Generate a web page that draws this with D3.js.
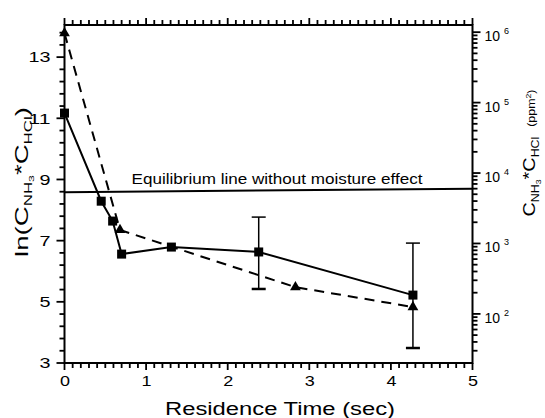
<!DOCTYPE html>
<html>
<head>
<meta charset="utf-8">
<script src="https://cdn.jsdelivr.net/npm/d3@7"></script>
<style>
  body { margin: 0; background: #fff; }
  text { font-family: "Liberation Sans", Arial, sans-serif; fill: #000; }
</style>
</head>
<body>
<script>
const width = 545
const height = 418

// series 1: squares, solid line
const sqTime = [0, 0.45, 0.59, 0.70, 1.31, 2.38, 4.27]
const sqLn = [11.17, 8.29, 7.64, 6.56, 6.79, 6.63, 5.22]
// error bars on the squares
const errTime = [2.38, 4.27]
const errHi = [7.77, 6.92]
const errLo = [5.42, 3.49]

// series 2: triangles, dashed line
const triTime = [0, 0.68, 2.83, 4.27]
const triLn = [13.78, 7.35, 5.48, 4.83]

// equilibrium line (ends)
const eqTime = [0, 5]
const eqLn = [8.58, 8.70]

// ticks
const xLabels = [0, 1, 2, 3, 4, 5]
const yLabels = [3, 5, 7, 9, 11, 13]
const decades = [2, 3, 4, 5, 6]

const x = d3.scaleLinear().domain([0, 5]).range([64.5, 472.5])
const y = d3.scaleLinear().domain([3, 14.05]).range([363, 25])
// right axis: same positions, value = exp(ln)
const yr = d3.scaleLog().domain([Math.exp(3), Math.exp(14.05)]).range([363, 25])

const svg = d3.select('body').append('svg').attr('width', width).attr('height', height)

const xTicks = d3.range(0, 51).map(i => i / 10)
const yTicks = d3.range(0, 28).map(i => +(3 + i * 0.4).toFixed(1)).filter(v => v <= 14.05)
const isXMajor = d => Math.abs(d - Math.round(d)) < 1e-6
const isYMajor = d => yLabels.includes(d)

const rTicks = []
decades.concat([1]).forEach(n => d3.range(1, 10).forEach(k => rTicks.push(k * Math.pow(10, n))))
const rVals = rTicks.filter(v => v >= yr.domain()[0] && v <= yr.domain()[1])
const isRMajor = d => decades.some(n => Math.abs(d - Math.pow(10, n)) < 1e-6)

/* ejes: lineas y etiquetas */
svg.append('g')
  .attr('transform', `translate(0,${y(3)})`)
  .call(d3.axisBottom(x).tickValues(xLabels).tickSize(0).tickSizeOuter(0).tickPadding(12).tickFormat(d3.format('d')))
  .call(g => g.select('.domain').remove())
  .call(g => g.selectAll('.tick line').remove())
  .call(g => g.selectAll('.tick text').attr('font-size', 15).attr('textLength', 10).attr('lengthAdjust', 'spacingAndGlyphs'))

svg.append('g')
  .attr('transform', `translate(${x(0)},0)`)
  .call(d3.axisLeft(y).tickValues(yLabels).tickSize(0).tickSizeOuter(0).tickPadding(14).tickFormat(d3.format('d')))
  .call(g => g.select('.domain').remove())
  .call(g => g.selectAll('.tick line').remove())
  .call(g => g.selectAll('.tick text').attr('font-size', 15)
    .attr('textLength', d => String(d).length * 11).attr('lengthAdjust', 'spacingAndGlyphs'))

/* marco y marcas de los ejes, dibujados al final */
const frame = svg.append('g')
frame.append('rect')
  .attr('x', x(0)).attr('y', y.range()[1])
  .attr('width', x(5) - x(0)).attr('height', y(3) - y.range()[1])
  .attr('fill', 'none').attr('stroke', '#000').attr('stroke-width', 2)

const marks = svg.append('g')
marks.selectAll('rect.b').data(xTicks).join('rect').attr('class', 'b')
  .attr('x', d => x(d) - 0.9).attr('width', 1.8)
  .attr('y', y(3)).attr('height', d => isXMajor(d) ? 7 : 5)
  .attr('fill', '#000')
marks.selectAll('rect.t').data(xTicks).join('rect').attr('class', 't')
  .attr('x', d => x(d) - 0.9).attr('width', 1.8)
  .attr('y', d => y.range()[1] - (isXMajor(d) ? 7 : 5)).attr('height', d => isXMajor(d) ? 7 : 5)
  .attr('fill', '#000')
marks.selectAll('rect.l').data(yTicks).join('rect').attr('class', 'l')
  .attr('x', d => x(0) - (isYMajor(d) ? 8 : 5)).attr('width', d => isYMajor(d) ? 8 : 5)
  .attr('y', d => y(d) - 0.9).attr('height', 1.8)
  .attr('fill', '#000')
marks.selectAll('rect.r').data(rVals).join('rect').attr('class', 'r')
  .attr('x', x(5)).attr('width', d => isRMajor(d) ? 8 : 5)
  .attr('y', d => yr(d) - 0.9).attr('height', 1.8)
  .attr('fill', '#000')

// etiquetas 10^n
const rLab = svg.append('g').selectAll('text')
  .data(decades)
  .join('text')
  .attr('x', x(5) + 12)
  .attr('y', d => yr(Math.pow(10, d)) + 9)
  .attr('font-size', 14)
rLab.append('tspan').text('10')
rLab.append('tspan').attr('font-size', 9).attr('dx', 4).attr('dy', -7).text(d => d)

/* linea de equilibrio */
const eqLine = d3.line().x((d, i) => x(eqTime[i])).y(d => y(d))
svg.append('path')
  .attr('d', eqLine(eqLn))
  .attr('fill', 'none').attr('stroke', '#000').attr('stroke-width', 2)
svg.append('text')
  .attr('x', 277).attr('y', 184)
  .attr('text-anchor', 'middle')
  .attr('font-size', 14)
  .attr('textLength', 291).attr('lengthAdjust', 'spacingAndGlyphs')
  .text('Equilibrium line without moisture effect')

/* series */
const triLine = d3.line().x((d, i) => x(triTime[i])).y(d => y(d))
svg.append('path')
  .attr('d', triLine(triLn))
  .attr('fill', 'none').attr('stroke', '#000').attr('stroke-width', 2)
  .attr('stroke-dasharray', '10,7')

const sqLine = d3.line().x((d, i) => x(sqTime[i])).y(d => y(d))
svg.append('path')
  .attr('d', sqLine(sqLn))
  .attr('fill', 'none').attr('stroke', '#000').attr('stroke-width', 2)

const err = svg.append('g').selectAll('g')
  .data(errTime)
  .join('g')
err.append('line')
  .attr('x1', d => x(d)).attr('x2', d => x(d))
  .attr('y1', (d, i) => y(errHi[i])).attr('y2', (d, i) => y(errLo[i]))
  .attr('stroke', '#000').attr('stroke-width', 1.5)
err.append('line')
  .attr('x1', d => x(d) - 7).attr('x2', d => x(d) + 7)
  .attr('y1', (d, i) => y(errHi[i])).attr('y2', (d, i) => y(errHi[i]))
  .attr('stroke', '#000').attr('stroke-width', 1.5)
err.append('line')
  .attr('x1', d => x(d) - 7).attr('x2', d => x(d) + 7)
  .attr('y1', (d, i) => y(errLo[i])).attr('y2', (d, i) => y(errLo[i]))
  .attr('stroke', '#000').attr('stroke-width', 2.5)

svg.append('g').selectAll('rect')
  .data(sqLn)
  .join('rect')
  .attr('x', (d, i) => x(sqTime[i]) - 4.5)
  .attr('y', d => y(d) - 4.5)
  .attr('width', 9).attr('height', 9)
  .attr('fill', '#000')

svg.append('g').selectAll('path')
  .data(triLn)
  .join('path')
  .attr('transform', (d, i) => `translate(${x(triTime[i])},${y(d)})`)
  .attr('d', d3.symbol(d3.symbolTriangle, 50))
  .attr('fill', '#000')

/* titulos */
const yTitle = svg.append('text')
  .attr('transform', 'translate(28,182) rotate(-90)')
  .attr('text-anchor', 'middle')
  .attr('font-size', 18)
  .attr('textLength', 150).attr('lengthAdjust', 'spacingAndGlyphs')
yTitle.append('tspan').text('ln(C')
yTitle.append('tspan').attr('font-size', 11).attr('dy', 4).text('NH')
yTitle.append('tspan').attr('font-size', 8).attr('dy', 2).text('3')
yTitle.append('tspan').attr('dy', -6).text('*C')
yTitle.append('tspan').attr('font-size', 11).attr('dy', 4).text('HCl')
yTitle.append('tspan').attr('dy', -4).text(')')

const rTitle = svg.append('text')
  .attr('transform', 'translate(535,153) rotate(-90)')
  .attr('text-anchor', 'middle')
  .attr('font-size', 16)
  .attr('textLength', 127).attr('lengthAdjust', 'spacingAndGlyphs')
rTitle.append('tspan').text('C')
rTitle.append('tspan').attr('font-size', 10).attr('dy', 4).text('NH')
rTitle.append('tspan').attr('font-size', 7).attr('dy', 2).text('3')
rTitle.append('tspan').attr('dy', -6).text('*C')
rTitle.append('tspan').attr('font-size', 10).attr('dy', 4).text('HCl')
rTitle.append('tspan').attr('font-size', 10).attr('dy', -4).attr('dx', 8).text('(ppm')
rTitle.append('tspan').attr('font-size', 7).attr('dy', -4).text('2')
rTitle.append('tspan').attr('font-size', 10).attr('dy', 4).text(')')

svg.append('text')
  .attr('x', 280).attr('y', 415)
  .attr('text-anchor', 'middle')
  .attr('font-size', 18)
  .attr('textLength', 230).attr('lengthAdjust', 'spacingAndGlyphs')
  .text('Residence Time  (sec)')
</script>
</body>
</html>
